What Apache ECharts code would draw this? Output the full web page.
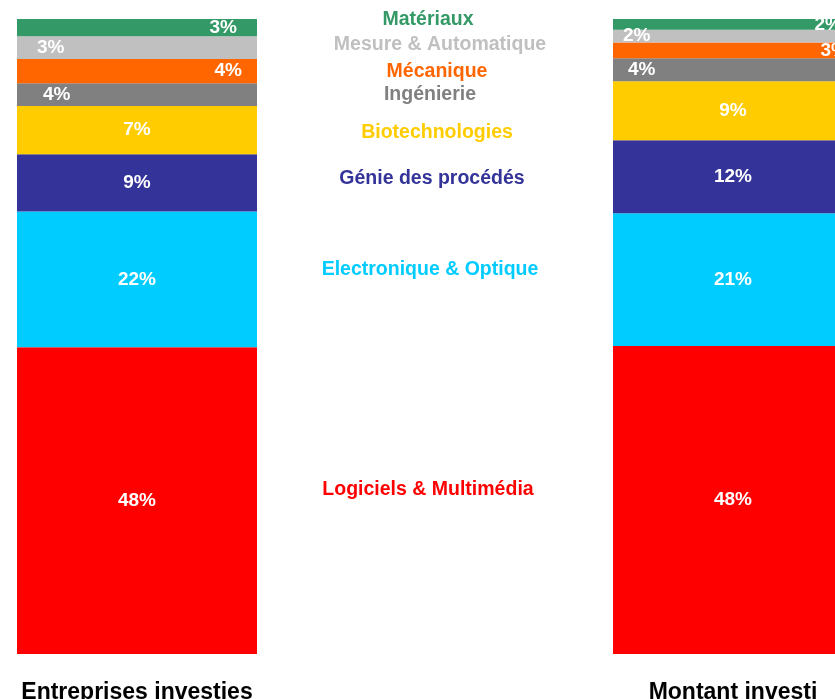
<html>
<head>
<meta charset="utf-8">
<title>Répartition par secteur</title>
<script src="https://cdn.jsdelivr.net/npm/echarts@6/dist/echarts.min.js"></script>
</head>
<body>
<style>
    html, body, #main {
        width: 100%;
        height: 100%;
        margin: 0;
        background: #fff;
    }
</style>
<div id="main"></div>

<script>

// categories (bars) and sectors (stack order, bottom first)
const categories = ['Entreprises investies', 'Montant investi'];
const sectors = ['Logiciels & Multimédia', 'Electronique & Optique', 'Génie des procédés',
    'Biotechnologies', 'Ingénierie', 'Mécanique', 'Mesure & Automatique', 'Matériaux'];

// shares in %
const entreprises = [48.3, 21.4, 9.0, 7.6, 3.6, 3.8, 3.6, 2.7];
const montant = [48.5, 20.9, 11.5, 9.3, 3.6, 2.5, 2.0, 1.7];

// printed labels
const entreprisesLabels = ['48%', '22%', '9%', '7%', '4%', '4%', '3%', '3%'];
const montantLabels = ['48%', '21%', '12%', '9%', '4%', '3%', '2%', '2%'];

const colors = ['#ff0000', '#00ccff', '#333399', '#ffcc00', '#808080', '#ff6600', '#c0c0c0', '#339966'];

// label placement for the thin slices (style only)
const labelPos = ['inside', 'inside', 'inside', 'inside', 'insideLeft', 'insideRight', 'insideLeft', 'insideRight'];
const distLeftBar = [0, 0, 0, 0, 26, 15, 20, 20];
const distRightBar = [0, 0, 0, 0, 15, 5, 10, 11];

// legend text layout in the middle
const legendLayout = [
    {x: 428, y: 490}, {x: 430, y: 270}, {x: 432, y: 179}, {x: 437, y: 133},
    {x: 430, y: 95}, {x: 437, y: 72}, {x: 440, y: 45}, {x: 428, y: 20}
];

var myChart = echarts.init(document.getElementById('main'));

function makeLabel(text, i, dist) {
    return {
        show: true,
        position: labelPos[i],
        distance: dist,
        formatter: text,
        color: '#fff',
        fontFamily: 'Liberation Sans, Arial, sans-serif',
        fontWeight: 'bold',
        fontSize: 19
    };
}

var series = sectors.map(function(name, i) {
    return {
        name: name,
        type: 'bar',
        stack: 'total',
        barWidth: 240,
        clip: false,
        itemStyle: {color: colors[i]},
        silent: true,
        data: [
            {value: entreprises[i], label: makeLabel(entreprisesLabels[i], i, distLeftBar[i])},
            {value: montant[i], label: makeLabel(montantLabels[i], i, distRightBar[i])}
        ]
    };
});

var legendTexts = sectors.map(function(name, i) {
    return {
        type: 'text',
        z: 100,
        x: legendLayout[i].x,
        y: legendLayout[i].y,
        style: {
            text: name,
            fill: colors[i],
            font: 'bold 19.5px "Liberation Sans", Arial, sans-serif',
            textAlign: 'center',
            textVerticalAlign: 'middle'
        }
    };
});

option = {
    animation: false,
    grid: {
        left: 137,
        right: 102,
        top: 19,
        bottom: 45,
        outerBoundsMode: 'none'
    },
    xAxis: {
        type: 'category',
        data: categories,
        boundaryGap: false,
        axisLine: {show: false},
        axisTick: {show: false},
        axisLabel: {
            margin: 27,
            color: '#000',
            fontFamily: 'Liberation Sans, Arial, sans-serif',
            fontWeight: 'bold',
            fontSize: 23
        }
    },
    yAxis: {
        type: 'value',
        min: 0,
        max: 100,
        show: false,
        splitLine: {show: false}
    },
    graphic: legendTexts,
    series: series
};
myChart.setOption(option);

</script>
</body>
</html>
